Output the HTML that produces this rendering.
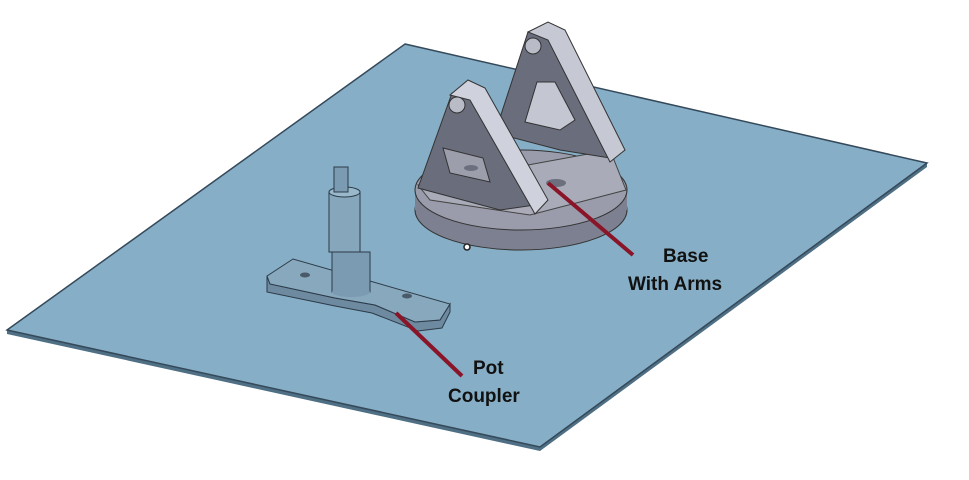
<!DOCTYPE html>
<html><head><style>
body{margin:0;background:#fff;}
svg{display:block;}
text{font-family:"Liberation Sans",sans-serif;font-weight:bold;font-size:19px;fill:#111;}
</style></head><body>
<svg width="969" height="480" viewBox="0 0 969 480">
<!-- plate edge -->
<polygon points="7,330 540,447 927,163 927,167 540,451 7,334" fill="#4f6f84"/>
<polygon points="405,44 927,163 540,447 7,330" fill="#86aec6" stroke="#34495a" stroke-width="1.5"/>
<!-- base disc -->
<ellipse cx="521" cy="210" rx="106" ry="40" fill="#7d8090" stroke="#333" stroke-width="1"/>
<rect x="415" y="190" width="212" height="20" fill="#7d8090"/>
<ellipse cx="521" cy="190" rx="106" ry="40" fill="#9a9cab" stroke="#333" stroke-width="1"/>
<polygon points="418,185 610,150 626,190 530,215 430,200" fill="#a9abb8" stroke="#444" stroke-width="1"/>
<ellipse cx="556" cy="183" rx="10" ry="4" fill="#6c6f7e"/>
<!-- right arm -->
<polygon points="495,133 528,32 545,25 610,158 560,150" fill="#6a6d7c" stroke="#333" stroke-width="1"/>
<polygon points="528,32 548,22 565,30 625,150 610,162 548,40" fill="#c6c8d4" stroke="#333" stroke-width="1"/>
<circle cx="533" cy="46" r="8" fill="#b9bbc7" stroke="#333"/>
<polygon points="537,82 555,82 575,120 560,130 525,122" fill="#c4c6d2" stroke="#333"/>
<!-- left arm -->
<polygon points="418,188 452,93 470,86 535,205 500,210" fill="#6a6d7c" stroke="#333" stroke-width="1"/>
<polygon points="450,95 468,80 485,88 548,200 535,214 470,100" fill="#cfd1dc" stroke="#333" stroke-width="1"/>
<circle cx="457" cy="105" r="8" fill="#b9bbc7" stroke="#333"/>
<polygon points="443,148 483,158 490,182 450,173" fill="#9c9eac" stroke="#333"/>
<ellipse cx="471" cy="168" rx="7" ry="3" fill="#6c6f7e"/>
<circle cx="467" cy="247" r="3" fill="#fff" stroke="#222" stroke-width="1.5"/>
<!-- pot coupler base -->
<polygon points="267,276 270,284 335,298 375,305 415,322 440,320 450,304 450,312 442,328 418,331 372,313 335,306 267,292" fill="#6e8aa0" stroke="#2c3b48"/>
<polygon points="267,276 293,259 450,304 440,320 415,322 375,305 335,298 270,284" fill="#88a8be" stroke="#2c3b48"/>
<ellipse cx="305" cy="275" rx="5" ry="2.5" fill="#4a5a68"/>
<ellipse cx="407" cy="296" rx="5" ry="2.5" fill="#4a5a68"/>
<!-- shaft -->
<rect x="332" y="252" width="38" height="40" fill="#7b9bb2" stroke="#2c3b48"/>
<ellipse cx="351" cy="292" rx="19" ry="5" fill="#7b9bb2"/>
<rect x="329" y="192" width="31" height="60" fill="#86a6bc" stroke="#2c3b48"/>
<ellipse cx="344.5" cy="192" rx="15.5" ry="5" fill="#9ab8cc" stroke="#2c3b48"/>
<rect x="334" y="167" width="14" height="25" fill="#7b9bb2" stroke="#2c3b48"/>
<!-- leaders -->
<line x1="548" y1="183" x2="633" y2="255" stroke="#8a1528" stroke-width="4"/>
<line x1="396" y1="313" x2="462" y2="376" stroke="#8a1528" stroke-width="4"/>
<text x="663" y="262">Base</text>
<text x="628" y="290">With Arms</text>
<text x="473" y="374">Pot</text>
<text x="448" y="402">Coupler</text>
</svg>
</body></html>
